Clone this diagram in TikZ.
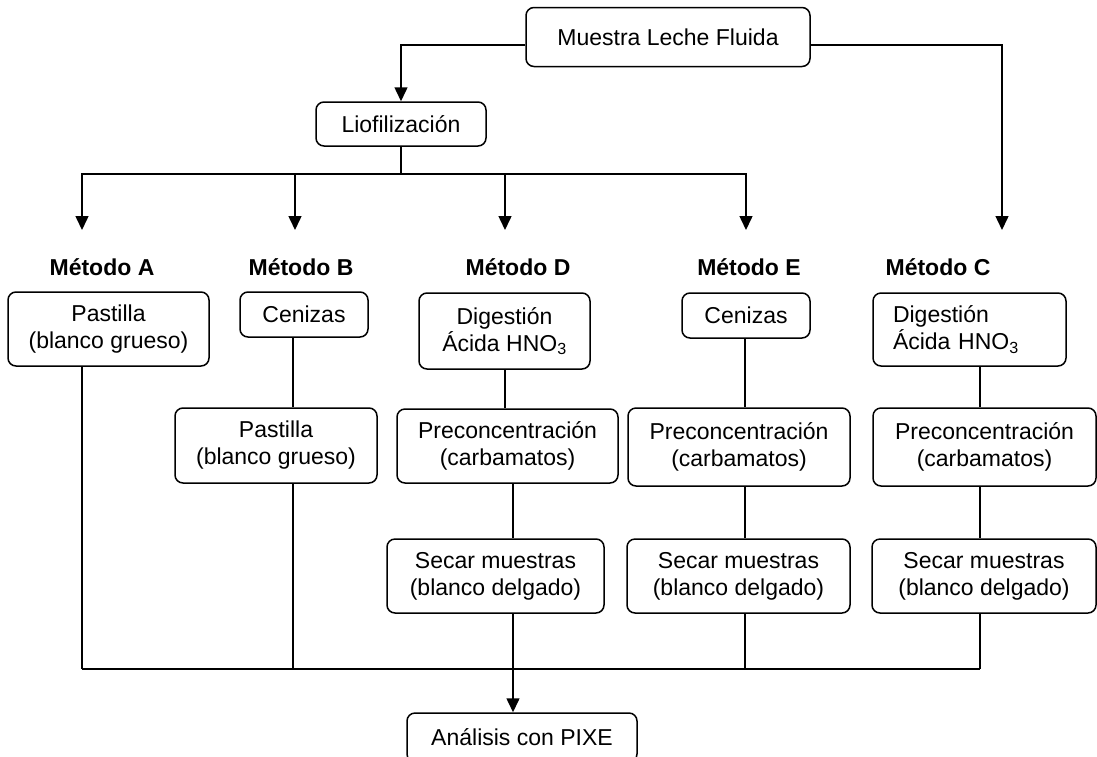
\documentclass[tikz,border=0pt]{standalone}
\usepackage{fontspec}
\setmainfont{Liberation Sans}
\usetikzlibrary{arrows.meta}
\begin{document}
\begin{tikzpicture}[
    x=1pt,y=-1pt,
    line width=1.5pt,
    font=\fontsize{23}{27}\selectfont,
    caja/.style={draw=black,rounded corners=8pt,align=center,inner sep=0pt},
    metodo/.style={font=\fontsize{23}{27}\selectfont\bfseries},
    flecha/.style={-{Triangle[width=13pt,length=14pt]}}]
 \useasboundingbox (0,0) rectangle (1097,756);
 \node[caja,minimum width=284,minimum height=59] (muestra) at (668,37) {Muestra Leche Fluida};
 \node[caja,minimum width=170,minimum height=44] (liof) at (401,124) {Liofilización};
 \node[metodo] (metA) at (102,267) {Método A};
 \node[metodo] (metB) at (301,267) {Método B};
 \node[metodo] (metD) at (518,267) {Método D};
 \node[metodo] (metE) at (749,267) {Método E};
 \node[metodo] (metC) at (938,267) {Método C};
 \node[caja,minimum width=201,minimum height=74] (A1) at (108.5,329) {Pastilla\\(blanco grueso)};
 \node[caja,minimum width=128,minimum height=45] (B1) at (304,314.5) {Cenizas};
 \node[caja,minimum width=171,minimum height=76] (D1) at (504.5,331) {Digestión\\Ácida HNO\textsubscript{3}};
 \node[caja,minimum width=128,minimum height=45] (E1) at (746,315.5) {Cenizas};
 \node[caja,align=left,text width=153,minimum width=193,minimum height=73] (C1) at (969.5,329.5) {Digestión\\Ácida HNO\textsubscript{3}};
 \node[caja,minimum width=202,minimum height=75] (B2) at (276,445.5) {Pastilla\\(blanco grueso)};
 \node[caja,minimum width=221,minimum height=74] (D2) at (507.5,446) {Preconcentración\\(carbamatos)};
 \node[caja,minimum width=222,minimum height=78] (E2) at (739,447) {Preconcentración\\(carbamatos)};
 \node[caja,minimum width=223,minimum height=78] (C2) at (984.5,447) {Preconcentración\\(carbamatos)};
 \node[caja,minimum width=217,minimum height=74] (D3) at (495.5,576) {Secar muestras\\(blanco delgado)};
 \node[caja,minimum width=223,minimum height=74] (E3) at (738.5,576) {Secar muestras\\(blanco delgado)};
 \node[caja,minimum width=224,minimum height=74] (C3) at (984,576) {Secar muestras\\(blanco delgado)};
 \node[caja,minimum width=230,minimum height=49] (pixe) at (522,737.5) {Análisis con PIXE};
 \coordinate (bus) at (401,174);
 \coordinate (tipA) at (82,230);
 \coordinate (tipB) at (295,230);
 \coordinate (tipD) at (505,230);
 \coordinate (tipE) at (746,230);
 \coordinate (tipC) at (1002,230);
 \coordinate (finA) at (82,669);
 \coordinate (finB) at (293,669);
 \coordinate (finD) at (513,669);
 \coordinate (finE) at (745,669);
 \coordinate (finC) at (980,669);
 \draw[flecha] ([yshift=-8pt]muestra.west) -| (liof.north);
 \draw[flecha] ([yshift=-8pt]muestra.east) -| (tipC);
 \draw (liof.south) -- (bus);
 \foreach \t in {tipA,tipB,tipD,tipE}
   \draw[flecha] (bus) -| (\t);
 \draw (A1.south -| finA) -- (finA);
 \draw (B1.south -| finB) -- (B2.north -| finB);
 \draw (B2.south -| finB) -- (finB);
 \draw (D1.south -| tipD) -- (D2.north -| tipD);
 \draw (D2.south -| finD) -- (D3.north -| finD);
 \draw[flecha] (D3.south -| finD) -- (pixe.north -| finD);
 \foreach \c in {E,C} {
   \draw (\c1.south -| fin\c) -- (\c2.north -| fin\c);
   \draw (\c2.south -| fin\c) -- (\c3.north -| fin\c);
   \draw (\c3.south -| fin\c) -- (fin\c);
 }
 \draw (finA) -- (finC);
\end{tikzpicture}
\end{document}
